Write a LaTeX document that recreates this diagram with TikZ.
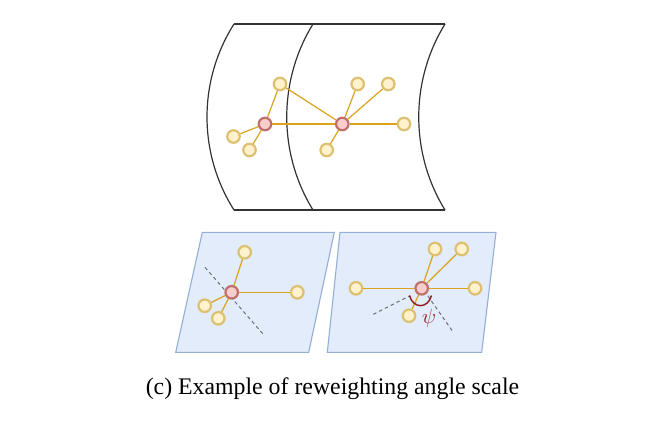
\documentclass[tikz,border=0pt]{standalone}
\usepackage{fontspec}
\setmainfont{Liberation Serif}
\definecolor{framec}{HTML}{333333}
\definecolor{planefill}{HTML}{E2ECFB}
\definecolor{planedraw}{HTML}{94AED6}
\definecolor{yelfill}{HTML}{FFF2CC}
\definecolor{yeldraw}{HTML}{DDC070}
\definecolor{redfill}{HTML}{F8CECC}
\definecolor{reddraw}{HTML}{C0706A}
\definecolor{linkc}{HTML}{DBA21C}
\definecolor{guidec}{HTML}{707070}
\definecolor{anglec}{HTML}{8E1A1A}
\begin{document}
\begin{tikzpicture}[x=1pt,y=-1pt,
  frame/.style={draw=framec, line width=1.2pt},
  plane/.style={draw=planedraw, fill=planefill, line width=1.1pt},
  yel/.style={circle, draw=yeldraw, fill=yelfill, line width=2.2pt, minimum size=12.5pt, inner sep=0pt},
  red/.style={circle, draw=reddraw, fill=redfill, line width=2.2pt, minimum size=12.5pt, inner sep=0pt},
  link/.style={draw=linkc, line width=1.2pt},
  guide/.style={draw=guidec, line width=1pt, dash pattern=on 3.5pt off 3pt},
  anglemark/.style={draw=anglec, line width=1.4pt}
]
\useasboundingbox (0,0) rectangle (660,421);
% top panels
\draw[frame] (234,24) -- (445,24);
\draw[frame] (234,210) -- (445,210);
\draw[frame] (234,24) .. controls (198,80.8) and (198,153.2) .. (234,210);
\draw[frame] (313,24) .. controls (278,80.8) and (278,153.2) .. (313,210);
\draw[frame] (445,24) .. controls (410,80.8) and (410,153.2) .. (445,210);
% top nodes
\node[red] (A) at (265,124) {};
\node[yel] (A1) at (280,84) {};
\node[yel] (A2) at (233.5,136.5) {};
\node[yel] (A3) at (249.5,150) {};
\node[red] (B) at (342.3,124) {};
\node[yel] (B1) at (357.7,84) {};
\node[yel] (B2) at (388.3,84) {};
\node[yel] (B3) at (404,124) {};
\node[yel] (B4) at (326.7,150) {};
\draw[link] (A) -- (A1);
\draw[link] (A) -- (A2);
\draw[link] (A) -- (A3);
\draw[link] (A) -- (B);
\draw[link] (A1) -- (B);
\draw[link] (B) -- (B1);
\draw[link] (B) -- (B2);
\draw[link] (B) -- (B3);
\draw[link] (B) -- (B4);
% bottom left plane
\draw[plane] (202.3,232.3) -- (334.3,232.3) -- (308.7,352.3) -- (175.7,352.3) -- cycle;
\coordinate (g1s) at (205,267.3);
\coordinate (g1e) at (263.3,334.3);
\draw[guide] (g1s) -- (g1e);
\node[red] (C) at (231.7,292.3) {};
\node[yel] (C1) at (244.7,252.3) {};
\node[yel] (C2) at (297.3,292.3) {};
\node[yel] (C3) at (204.7,305.7) {};
\node[yel] (C4) at (218.3,318.3) {};
\draw[link] (C) -- (C1);
\draw[link] (C) -- (C2);
\draw[link] (C) -- (C3);
\draw[link] (C) -- (C4);
% bottom right plane
\draw[plane] (340,232.3) -- (496,232.3) -- (481.7,352.3) -- (327.3,352.3) -- cycle;
\coordinate (g2s) at (373.3,314.3);
\coordinate (g2e) at (410,295.7);
\coordinate (g3s) at (427.7,295.7);
\coordinate (g3e) at (453.3,332.3);
\draw[guide] (g2s) -- (g2e);
\draw[guide] (g3s) -- (g3e);
\node[red] (D) at (421.7,288.3) {};
\node[yel] (D1) at (356,288.3) {};
\node[yel] (D2) at (435,249) {};
\node[yel] (D3) at (461.7,249) {};
\node[yel] (D4) at (475,288.3) {};
\node[yel] (D5) at (409,315.7) {};
\draw[link] (D) -- (D1);
\draw[link] (D) -- (D2);
\draw[link] (D) -- (D3);
\draw[link] (D) -- (D4);
\draw[link] (D) -- (D5);
\coordinate (psiA) at (409.5,295.5);
\coordinate (psiB) at (431.5,295.5);
\draw[anglemark] (psiA) .. controls (413,309) and (428,309) .. (psiB);
\node[text=anglec, font=\fontsize{20}{24}\selectfont, inner sep=0pt] (psi) at (429,318.5) {$\psi$};
% caption
\node[font=\fontsize{23.8}{28}\selectfont, anchor=base, inner sep=0pt] (cap) at (332.5,394) {(c) Example of reweighting angle scale};
\end{tikzpicture}
\end{document}
